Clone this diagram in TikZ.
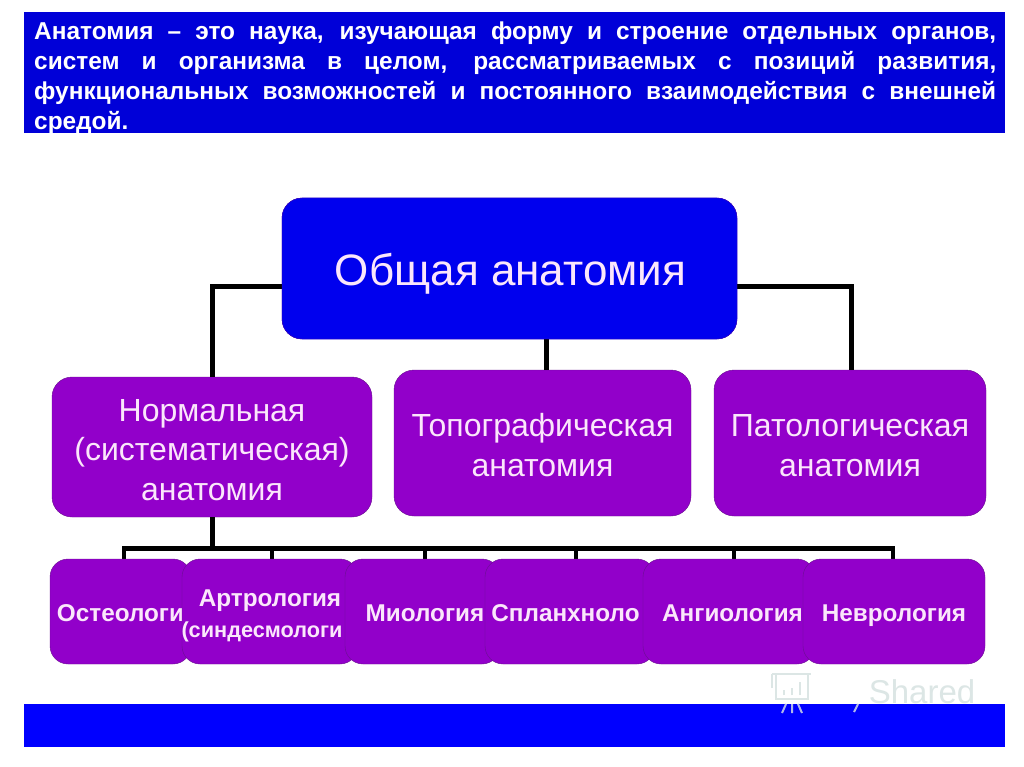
\documentclass[tikz,border=0pt]{standalone}
\usepackage{fontspec}
\usepackage{xcolor}
\setmainfont{Liberation Sans}
\definecolor{barblue}{HTML}{0000D8}
\definecolor{rootblue}{HTML}{0000EE}
\definecolor{boxviolet}{HTML}{9200CA}
\definecolor{boxedge}{HTML}{6A1090}
\definecolor{paletext}{HTML}{FBE6FB}
\definecolor{markgray}{HTML}{DCE6E5}
\newcommand{\lowstrut}{\rule[-5.5pt]{0pt}{30pt}}
\tikzset{
  bar/.style={fill=#1, draw=none, inner sep=0pt, anchor=north west},
  rootbox/.style={draw=boxedge!60!rootblue, fill=rootblue, rounded corners=20pt, text=paletext,
    minimum width=455pt, minimum height=141pt, font=\fontsize{44}{48}\selectfont},
  midbox/.style={draw=boxedge, fill=boxviolet, rounded corners=20pt, text=paletext, align=center,
    minimum height=146pt, font=\fontsize{32}{39.5}\selectfont},
  lowbox/.style={draw=boxedge, fill=boxviolet, rounded corners=18pt, text=paletext, align=center,
    minimum height=105pt, font=\fontsize{24.3}{31}\selectfont\bfseries},
  link/.style={draw=black, line width=5pt},
  drop/.style={draw=black, line width=4.5pt}
}
\begin{document}
\begin{tikzpicture}[x=1pt, y=-1pt]
  \useasboundingbox (0,0) rectangle (1024,767);
  \fill[white] (0,0) rectangle (1024,767);
  % top and bottom bars
  \node[bar=barblue, minimum width=981pt, minimum height=121pt] (defbar) at (24,12) {};
  \node[anchor=north west, inner sep=0pt, text width=962pt, align=justify, text=white,
    font=\fontsize{24.4}{30}\selectfont\bfseries] (deftext) at (34,22)
    {Анатомия – это наука, изучающая форму и строение отдельных органов,\linebreak
     систем и организма в целом, рассматриваемых с позиций развития,\linebreak
     функциональных возможностей и постоянного взаимодействия с внешней\linebreak
     средой.};
  \node[bar=blue, minimum width=981pt, minimum height=43pt] (footbar) at (24,704) {};
  % watermark
  \node[text=markgray, inner sep=0pt, font=\fontsize{33}{40}\selectfont] (mark) at (922,692) {Shared};
  \draw[markgray, line width=2pt] (772,674) -- (811,674) (776,674) -- (776,699) -- (808,699) -- (808,674)
    (772,674) -- (772,688) (784,695) -- (784,690) (792,695) -- (792,688) (800,695) -- (800,682);
  \draw[markgray!80!blue, line width=2pt] (786,704) -- (782,713) (792,704) -- (792,713) (798,704) -- (802,713)
    (858,704) -- (854,712);
  % connectors
  \node[rootbox] (root) at (509.5,268.5) {};
  \node[midbox, minimum width=320pt, minimum height=140pt] (norm) at (212,447)
    {\strut Нормальная\\(систематическая)\\анатомия};
  \node[midbox, minimum width=297pt] (topo) at (542.5,443) {\strut Топографическая\\анатомия};
  \node[midbox, minimum width=272pt] (pat) at (850,443) {\strut Патологическая\\анатомия};
  \draw[link] (root.west |- 0,286) -- (212,286) -- (norm.north);
  \draw[link] (root.east |- 0,286) -- (851,286) -- (pat.north -| 851,0);
  \draw[link] (root.south -| 546,0) -- (topo.north -| 546,0);
  \node[rootbox] at (root.center) {\rule[-9.5pt]{0pt}{52pt}\hspace*{2pt}Общая анатомия};
  \coordinate (busl) at (122,548);
  \coordinate (busr) at (895,548);
  \draw[link] (norm.south) -- (212,548);
  \draw[link] (busl) -- (busr);
  \foreach \dropx in {124,272,425,576,734,893}
    \draw[drop] (\dropx,548) -- (\dropx,560);
  % lower row, each box laid over the one before
  \node[lowbox, minimum width=141pt] (osteo) at (120.5,611.5) {\lowstrut Остеологи};
  \node[lowbox, minimum width=176pt] (arthro) at (270,611.5)
    {\lowstrut Артрология\\\hspace*{-16pt}{\fontsize{21.7}{31}\selectfont(синдесмологи}};
  \node[lowbox, minimum width=155pt] (myo) at (422.5,611.5) {\lowstrut\hspace*{5pt}Миология};
  \node[lowbox, minimum width=170pt] (splan) at (570,611.5) {\lowstrut Спланхноло\hspace*{9pt}};
  \node[lowbox, minimum width=172pt] (angio) at (729,611.5) {\lowstrut\hspace*{7pt}Ангиология};
  \node[lowbox, minimum width=182pt] (neuro) at (894,611.5) {\lowstrut Неврология};
\end{tikzpicture}
\end{document}
